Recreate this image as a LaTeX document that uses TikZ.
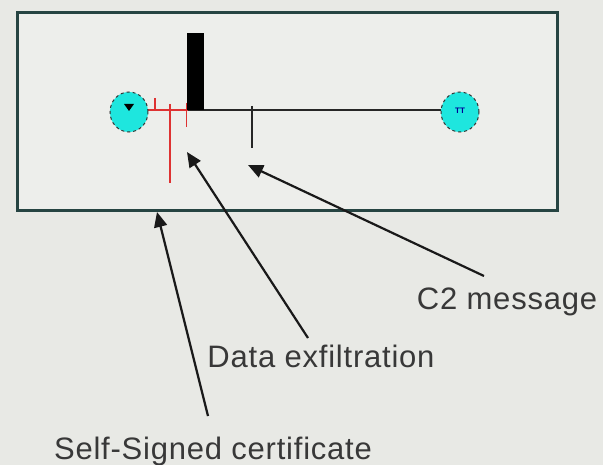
\documentclass[tikz,border=0pt]{standalone}
\usepackage{fontspec}
\setmainfont{Liberation Sans}
\usetikzlibrary{arrows.meta,shapes.geometric}
\definecolor{bgc}{RGB}{232,233,229}
\definecolor{boxfill}{RGB}{237,238,235}
\definecolor{boxline}{RGB}{38,68,66}
\definecolor{cyanc}{RGB}{30,230,222}
\definecolor{redc}{RGB}{222,50,50}
\tikzset{
  host/.style={ellipse, draw=black!80, dashed, line width=1pt, fill=cyanc, minimum width=38pt, minimum height=40pt, inner sep=0pt},
  lbl/.style={font=\fontsize{31}{36}\selectfont\addfontfeature{LetterSpace=2.5}, text=black!78, inner sep=0pt, anchor=center},
  pointer/.style={line width=2.2pt, black!90, -{Triangle[length=15pt,width=13pt]}},
  wire/.style={line width=1.2pt, black!85},
  redwire/.style={line width=1.3pt, redc}
}
\begin{document}
\begin{tikzpicture}[x=1pt,y=-1pt]
\useasboundingbox[fill=bgc] (0,0) rectangle (603,465);
\node[draw=boxline, line width=3pt, fill=boxfill, minimum width=540pt, minimum height=198pt, inner sep=0pt] (frame) at (287,111.5) {};
% wire
\coordinate (w1) at (148,110);
\coordinate (w2) at (188,110);
\coordinate (w3) at (441,110);
\draw[wire] (w2) -- (w3);
\draw[redwire] (w1) -- (w2);
% hosts
\node[host] (hl) at (129,112) {};
\node[host] (hr) at (460,112) {};
\fill[black] (124,104) -- (134,104) -- (129,111) -- cycle;
\node[font=\fontsize{8}{8}\selectfont\bfseries, text=blue!60!black] at (460,111) {TT};
% black bar
\node[fill=black, minimum width=17pt, minimum height=77pt, inner sep=0pt, anchor=south west] (bar) at (187,110.5) {};
% red ticks
\coordinate (r1a) at (155,98); \coordinate (r1b) at (155,110);
\draw[redwire] (r1a) -- (r1b);
\coordinate (r2a) at (170,104); \coordinate (r2b) at (170,183);
\draw[redwire, line width=1.8pt] (r2a) -- (r2b);
\coordinate (r3a) at (186,103); \coordinate (r3b) at (186,127);
\draw[redwire, line width=1pt] (r3a) -- (r3b);
% black tick
\coordinate (b1a) at (252,106); \coordinate (b1b) at (252,148);
\draw[wire, line width=1.6pt] (b1a) -- (b1b);
% labels
\node[lbl] (c2) at (507,302) {C2 message};
\node[lbl] (dx) at (321,356) {Data exfiltration};
\node[lbl] (sc) at (213,451) {Self-Signed certificate};
% arrow targets
\coordinate (t1) at (248,165);
\coordinate (t2) at (187,152);
\coordinate (t3) at (157,212);
\coordinate (s1) at (484,276);
\coordinate (s2) at (308,338);
\coordinate (s3) at (208,416);
\draw[pointer] (s1) -- (t1);
\draw[pointer] (s2) -- (t2);
\draw[pointer] (s3) -- (t3);
\end{tikzpicture}
\end{document}
